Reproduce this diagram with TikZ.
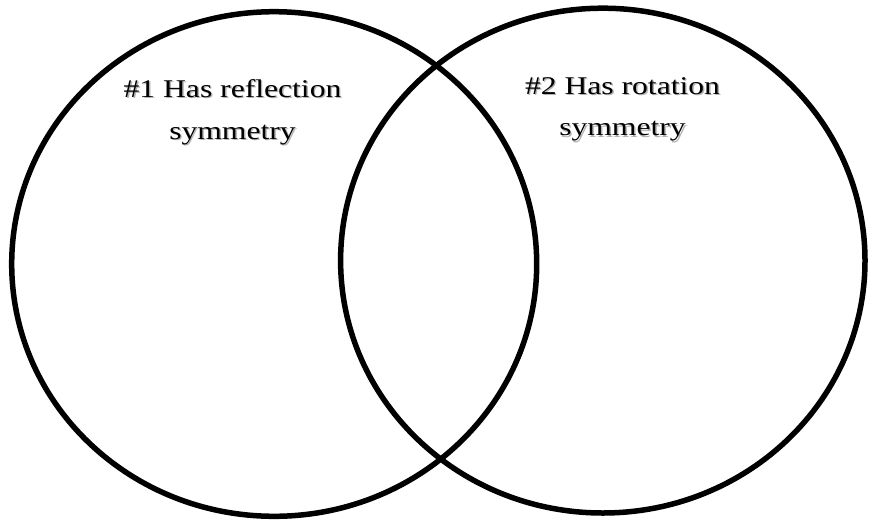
\documentclass[tikz,border=0pt]{standalone}
\usepackage{graphicx}
\usepackage{fontspec}
\setmainfont{Liberation Serif}
% labels are set a little wider than the font's natural width
\newcommand{\widetext}[1]{\scalebox{1.24}[1]{#1}}
\tikzset{
  ring/.style={draw=black, line width=5.5pt},
  vlabel/.style={font=\fontsize{25.5}{30}\selectfont, anchor=base, inner sep=0pt, text=black},
  vshadow/.style={vlabel, text=black!30},
}
\begin{document}
\begin{tikzpicture}[x=1pt, y=-1pt]
  \useasboundingbox (0,0) rectangle (875,522);

  % the two overlapping sets
  \draw[ring] (274.2,264.0) ellipse [x radius=262.5, y radius=252.3];
  \draw[ring] (602.8,260.6) ellipse [x radius=262.2, y radius=252.4];

  % soft drop shadows under the set titles
  \node[vshadow] (sa1) at (233.9,98.4)  {\widetext{\#1 Has reflection}};
  \node[vshadow] (sa2) at (233.9,140.4) {\widetext{symmetry}};
  \node[vshadow] (sb1) at (623.9,95.4)  {\widetext{\#2 Has rotation}};
  \node[vshadow] (sb2) at (623.9,137.0) {\widetext{symmetry}};

  % set titles
  \node[vlabel] (a1) at (232.5,97.0)  {\widetext{\#1 Has reflection}};
  \node[vlabel] (a2) at (232.5,139.0) {\widetext{symmetry}};
  \node[vlabel] (b1) at (622.5,94.0)  {\widetext{\#2 Has rotation}};
  \node[vlabel] (b2) at (622.5,135.6) {\widetext{symmetry}};
\end{tikzpicture}
\end{document}
